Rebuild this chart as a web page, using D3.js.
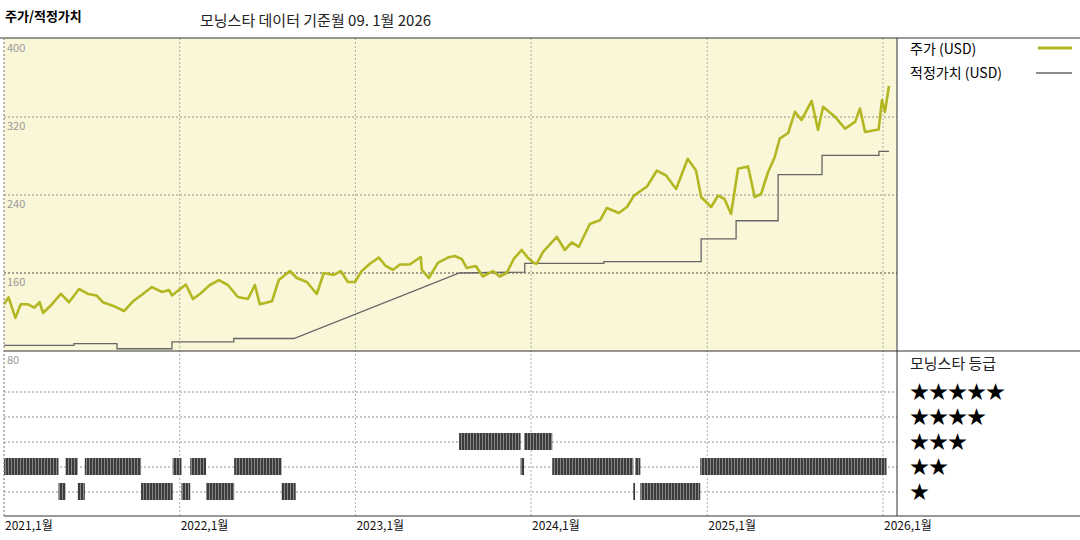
<!DOCTYPE html>
<html><head><meta charset="utf-8">
<script src="https://cdn.jsdelivr.net/npm/d3@7"></script>
<style>
body{margin:0;background:#fff}
text{font-family:"Noto Sans CJK KR","DejaVu Sans",sans-serif}
</style></head>
<body><svg width="1080" height="540"></svg>
<script>
// price (USD): [decimal year, value]
const priceData = [
  [2021.000,128],[2021.026,135],[2021.065,114],[2021.095,128],[2021.134,128],[2021.173,124.5],
  [2021.203,130],[2021.222,119],[2021.273,128],[2021.324,138.5],[2021.370,130],[2021.427,143.6],
  [2021.478,138.5],[2021.526,137],[2021.563,130],[2021.626,126],[2021.683,121],[2021.734,131],
  [2021.779,137],[2021.842,145.6],[2021.899,140.5],[2021.939,142.6],[2021.956,137],[2022.035,148.2],
  [2022.075,133.3],[2022.115,138.5],[2022.172,147.7],[2022.223,152.8],[2022.274,147.7],[2022.331,135.4],
  [2022.388,133.3],[2022.428,147.7],[2022.456,128],[2022.525,131],[2022.564,152.8],[2022.627,162],
  [2022.667,154.9],[2022.724,150.8],[2022.780,138.5],[2022.820,160],[2022.877,158],[2022.917,162],
  [2022.957,150.8],[2022.997,150.8],[2023.036,162],[2023.088,170.3],[2023.133,175.8],[2023.173,167.2],
  [2023.213,163.1],[2023.253,168.7],[2023.309,168.7],[2023.372,176.4],[2023.378,163.1],[2023.418,154.9],
  [2023.469,170.3],[2023.526,175.8],[2023.565,177.4],[2023.605,174.4],[2023.634,165.1],[2023.685,167.2],
  [2023.725,156.4],[2023.782,162],[2023.821,156.4],[2023.861,160],[2023.901,174.4],[2023.947,183.6],
  [2023.981,175.8],[2024.015,170.3],[2024.032,169.6],[2024.069,182],[2024.146,197.1],[2024.191,183.6],
  [2024.231,191.3],[2024.271,186.9],[2024.333,210.3],[2024.393,214.4],[2024.430,226.7],[2024.498,221.5],
  [2024.544,227.7],[2024.584,239.4],[2024.658,248.7],[2024.714,265.1],[2024.766,260],[2024.823,246.2],
  [2024.889,277.2],[2024.936,265.1],[2024.965,237.9],[2025.022,227.7],[2025.061,239.4],[2025.098,235.9],
  [2025.135,220.5],[2025.175,266.9],[2025.232,269.3],[2025.270,237.9],[2025.306,241],[2025.346,263.6],
  [2025.384,279],[2025.412,297.9],[2025.460,303.6],[2025.499,325.3],[2025.536,316.9],[2025.594,336.6],
  [2025.630,306.7],[2025.659,330.5],[2025.727,320.2],[2025.784,308.1],[2025.841,315],[2025.869,328.7],
  [2025.898,304.6],[2025.975,307.1],[2025.994,337.4],[2026.011,325.3],[2026.034,351.8]
];
// fair value (USD): path vertices [decimal year, value] (steps plus the 2022-23 ramp)
const fairData = [
  [2021.000,85.8],[2021.398,85.8],[2021.398,87.6],[2021.643,87.6],[2021.643,82.3],[2021.956,82.3],
  [2021.956,89.3],[2022.308,89.3],[2022.308,92.8],[2022.650,92.8],[2023.592,160],[2023.964,161],
  [2023.964,169.8],[2024.413,169.8],[2024.413,171.7],[2024.965,171.7],[2024.965,194.9],[2025.164,194.9],
  [2025.164,213.6],[2025.403,213.6],[2025.403,261],[2025.653,261],[2025.653,280.6],[2025.977,280.6],
  [2025.977,284.7],[2026.034,284.7]
];
// Morningstar rating periods: [start, end, stars]
const ratingData = [
  [2021.00,2021.31,2],[2021.31,2021.35,1],[2021.35,2021.42,2],[2021.42,2021.46,1],[2021.46,2021.78,2],
  [2021.78,2021.96,1],[2021.96,2022.01,2],[2022.01,2022.06,1],[2022.06,2022.15,2],[2022.15,2022.31,1],
  [2022.31,2022.58,2],[2022.58,2022.66,1],[2023.59,2023.94,3],[2023.94,2023.96,2],[2023.96,2024.12,3],
  [2024.12,2024.58,2],[2024.58,2024.59,1],[2024.59,2024.62,2],[2024.62,2024.96,1],[2024.96,2026.02,2]
];
const priceTicks = [400, 320, 240, 160];
const yearTicks = [2021, 2022, 2023, 2024, 2025, 2026];
const starRows = [5, 4, 3, 2, 1];

const toDate = yr => {
  const y = Math.floor(yr), a = new Date(y, 0, 1), b = new Date(y + 1, 0, 1);
  return new Date(+a + (yr - y) * (b - a));
};

const svg = d3.select("svg");
const L = 4, R = 897, T = 38, M = 351, B = 516;
const x = d3.scaleTime().domain([new Date(2021,0,1), new Date(2026,0,1)]).range([L, 883]);
const y = d3.scaleLinear().domain([80, 400]).range([M, 39]);
const yr = d3.scaleLinear().domain([1, 5]).range([492, 392]);

// stripe pattern for rating bars
const pat = svg.append("defs").append("pattern").attr("id", "stripe")
  .attr("width", 3).attr("height", 10).attr("patternUnits", "userSpaceOnUse");
pat.append("rect").attr("width", 3).attr("height", 10).attr("fill", "#3c3c3c");
pat.append("rect").attr("x", 2).attr("width", 0.8).attr("height", 10).attr("fill", "#9a9a9a");

svg.append("rect").attr("x", L).attr("y", T).attr("width", R - L).attr("height", M - T).attr("fill", "#faf6d8");

// horizontal grid
svg.selectAll("line.hg").data(priceTicks.slice(1)).enter().append("line")
  .attr("x1", L).attr("x2", R).attr("y1", d => y(d)).attr("y2", d => y(d))
  .attr("stroke", d => d === 160 ? "#222" : "#777").attr("stroke-dasharray", "2,2").attr("stroke-width", 0.8);
svg.selectAll("line.rg").data(starRows).enter().append("line")
  .attr("x1", L).attr("x2", R).attr("y1", d => yr(d)).attr("y2", d => yr(d))
  .attr("stroke", "#777").attr("stroke-dasharray", "2,2").attr("stroke-width", 0.8);

// vertical grid
svg.selectAll("line.vg").data(yearTicks).enter().append("line")
  .attr("x1", d => x(new Date(d,0,1))).attr("x2", d => x(new Date(d,0,1)))
  .attr("y1", T).attr("y2", B).attr("stroke", "#999").attr("stroke-dasharray", "2,2").attr("stroke-width", 0.8);

// tick labels
svg.selectAll("text.yt").data(priceTicks).enter().append("text")
  .attr("x", 7).attr("y", d => y(d) + 13).attr("font-size", 11).attr("fill", "#999").text(d => d);
svg.append("text").attr("x", 7).attr("y", M + 13).attr("font-size", 11).attr("fill", "#999").text("80");
svg.selectAll("text.xt").data(yearTicks).enter().append("text")
  .attr("x", d => x(new Date(d,0,1)) + 1).attr("y", 530).attr("font-size", 12).attr("fill", "#111")
  .text(d => d + ",1월");

// rating bars
svg.selectAll("rect.rb").data(ratingData).enter().append("rect")
  .attr("x", d => x(toDate(d[0]))).attr("width", d => Math.max(1.5, x(toDate(d[1])) - x(toDate(d[0]))))
  .attr("y", d => yr(d[2]) - 9).attr("height", 17).attr("fill", "url(#stripe)");

// fair value line
svg.append("path").datum(fairData)
  .attr("d", d3.line().x(d => x(toDate(d[0]))).y(d => y(d[1])))
  .attr("fill", "none").attr("stroke", "#666").attr("stroke-width", 1.3);
// price line
svg.append("path").datum(priceData)
  .attr("d", d3.line().x(d => x(toDate(d[0]))).y(d => y(d[1])))
  .attr("fill", "none").attr("stroke", "#b2b722").attr("stroke-width", 2.6).attr("stroke-linejoin", "round");

// frame
svg.append("line").attr("x1", 0).attr("x2", 1080).attr("y1", T).attr("y2", T).attr("stroke", "#333");
svg.append("line").attr("x1", L).attr("x2", 1080).attr("y1", M).attr("y2", M).attr("stroke", "#333");
svg.append("line").attr("x1", L).attr("x2", 1080).attr("y1", B).attr("y2", B).attr("stroke", "#333");
svg.append("line").attr("x1", R).attr("x2", R).attr("y1", T).attr("y2", B).attr("stroke", "#333");
svg.append("line").attr("x1", L).attr("x2", L).attr("y1", T).attr("y2", B).attr("stroke", "#999").attr("stroke-dasharray", "2,2");

// titles
svg.append("text").attr("x", 5).attr("y", 21).attr("font-size", 13).attr("font-weight", "bold").text("주가/적정가치");
svg.append("text").attr("x", 200).attr("y", 26).attr("font-size", 15).attr("fill", "#222").text("모닝스타 데이터 기준월 09. 1월 2026");

// legend
svg.append("text").attr("x", 910).attr("y", 54).attr("font-size", 14).text("주가 (USD)");
svg.append("line").attr("x1", 1038).attr("x2", 1072).attr("y1", 48).attr("y2", 48).attr("stroke", "#b2b722").attr("stroke-width", 3);
svg.append("text").attr("x", 910).attr("y", 78).attr("font-size", 14).text("적정가치 (USD)");
svg.append("line").attr("x1", 1036).attr("x2", 1072).attr("y1", 73).attr("y2", 73).attr("stroke", "#666").attr("stroke-width", 1.3);
svg.append("text").attr("x", 910).attr("y", 369).attr("font-size", 15).attr("fill", "#222").text("모닝스타 등급");
svg.selectAll("text.st").data(starRows).enter().append("text")
  .attr("x", 910).attr("y", d => yr(d) + 7).attr("font-size", 19).attr("font-family", "DejaVu Sans")
  .text(d => "★".repeat(d));
</script></body></html>
